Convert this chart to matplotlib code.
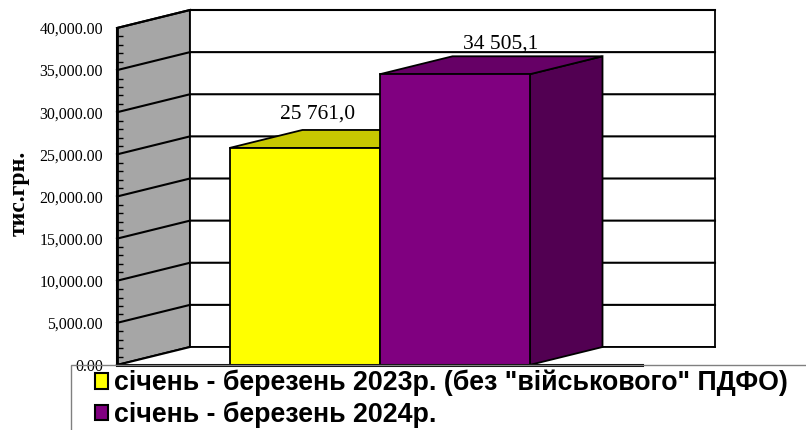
import matplotlib
matplotlib.use('Agg')
import matplotlib.pyplot as plt
from matplotlib.patches import Polygon, Rectangle
from matplotlib.transforms import ScaledTranslation
from matplotlib.ticker import MultipleLocator, FuncFormatter
from matplotlib.lines import Line2D

# ---- data ----
series_labels = ['січень - березень 2023р. (без "військового" ПДФО)',
                 'січень - березень 2024р.']
values = [25761.0, 34505.1]
value_labels = ['25 761,0', '34 505,1']
y_ticks = [0, 5000, 10000, 15000, 20000, 25000, 30000, 35000, 40000]
y_label = 'тис.грн.'

# ---- styles ----
front_colors = ['#FFFF00', '#800080']
top_colors = ['#C8C800', '#660066']
side_colors = ['#9E9E00', '#520052']
wall_color = '#A6A6A6'
serif = 'Liberation Serif'
sans = 'Liberation Sans'

W, H = 806, 430
fig = plt.figure(figsize=(W / 100, H / 100), dpi=100)
ax = fig.add_axes([117 / W, 65 / H, 525 / W, 337 / H])
ax.set_xlim(-1.25, 2.25)
ax.set_ylim(y_ticks[0], y_ticks[-1])
for s in ax.spines.values():
    s.set_visible(False)
ax.set_xticks([])

x0, x1 = ax.get_xlim()
ymax = y_ticks[-1]
depth = ScaledTranslation(0.73, 0.18, fig.dpi_scale_trans)
back_tr = ax.transData + depth
inv = ax.transData.inverted()

def bk(x, y):
    return tuple(inv.transform(back_tr.transform((x, y))))

# side wall
ax.add_patch(Polygon([(x0, 0), (x0, ymax), bk(x0, ymax), bk(x0, 0)],
                     closed=True, fc=wall_color, ec='black', lw=1.5,
                     clip_on=False, zorder=1))
# back wall
ax.add_patch(Polygon([bk(x0, 0), bk(x0, ymax), bk(x1, ymax), bk(x1, 0)],
                     closed=True, fc='white', ec='black', lw=1.3,
                     clip_on=False, zorder=1))
# gridlines
for v in y_ticks[1:]:
    p0, p1, p2 = (x0, v), bk(x0, v), bk(x1, v)
    ax.add_line(Line2D([p0[0], p1[0], p2[0]], [p0[1], p1[1], p2[1]],
                       color='black', lw=1.5, clip_on=False, zorder=1.2))
# floor
ax.add_patch(Polygon([(x0, 0), (x1, 0), bk(x1, 0), bk(x0, 0)],
                     closed=True, fc='white', ec='none', clip_on=False, zorder=1.3))
b0 = bk(x0, 0)
b1 = bk(x1, 0)
ax.add_line(Line2D([x0, b0[0]], [0, b0[1]], color='black', lw=1.5, clip_on=False, zorder=1.4))
ax.add_line(Line2D([b0[0], b1[0]], [b0[1], b1[1]], color='black', lw=1.3, clip_on=False, zorder=1.4))
ax.add_line(Line2D([x0, x1], [0, 0], color='black', lw=2.2, clip_on=False, zorder=3))
ax.add_line(Line2D([x0, x0], [0, ymax], color='black', lw=2.0, clip_on=False, zorder=3))

# bars
z = 2
for i, v in enumerate(values):
    l, r = i - 0.5, i + 0.5
    ax.add_patch(Polygon([(r, 0), (r, v), bk(r, v), bk(r, 0)], closed=True,
                         fc=side_colors[i], ec='black', lw=1.3, clip_on=False, zorder=z))
    ax.add_patch(Polygon([(l, v), (r, v), bk(r, v), bk(l, v)], closed=True,
                         fc=top_colors[i], ec='black', lw=1.3, clip_on=False, zorder=z + 0.1))
    ax.bar(i, v, width=1.0, color=front_colors[i], edgecolor='black', lw=1.3,
           zorder=z + 0.2, clip_on=False)
    z += 0.5

# value labels
label_offsets = [(13, 34), (46, 30.5)]
for i, v in enumerate(values):
    dx, dy = label_offsets[i]
    ax.annotate(value_labels[i], xy=(i, v), xytext=(dx * 0.72, dy * 0.72),
                textcoords='offset points', ha='center', va='center',
                fontsize=15.5, family=serif, zorder=5)

# y axis ticks
ax.set_yticks(y_ticks)
ax.yaxis.set_major_formatter(FuncFormatter(lambda v, p: f'{v:,.2f}'))
ax.yaxis.set_minor_locator(MultipleLocator(1000))
ax.tick_params(axis='y', which='major', direction='in', length=0, pad=10,
               labelsize=11.4, labelfontfamily=serif)
ax.tick_params(axis='y', which='minor', direction='in', length=4, width=1, color='black')
for t in ax.yaxis.get_minorticklines():
    t.set_zorder(4)

fig.text(19 / W, 1 - 193 / H, y_label, rotation=90, ha='center', va='center',
         fontsize=17, fontweight='bold', family=serif)

# legend frame
fig.patches.append(Rectangle((71 / W, -0.1), 1.0, (430 - 365) / H + 0.1,
                             transform=fig.transFigure, fill=False,
                             ec='#808080', lw=1.0, zorder=0))
handles = [Rectangle((0, 0), 1, 1, fc=c, ec='black', lw=1.5) for c in front_colors]
fig.legend(handles, series_labels, loc='upper left',
           bbox_to_anchor=(95 / W, 1 - 370 / H), frameon=False,
           borderpad=0, borderaxespad=0, handlelength=0.5, handleheight=0.5,
           handletextpad=0.22, labelspacing=0.18,
           prop={'family': sans, 'weight': 'bold', 'size': 19.3})

fig.savefig('out.png', dpi=100)
